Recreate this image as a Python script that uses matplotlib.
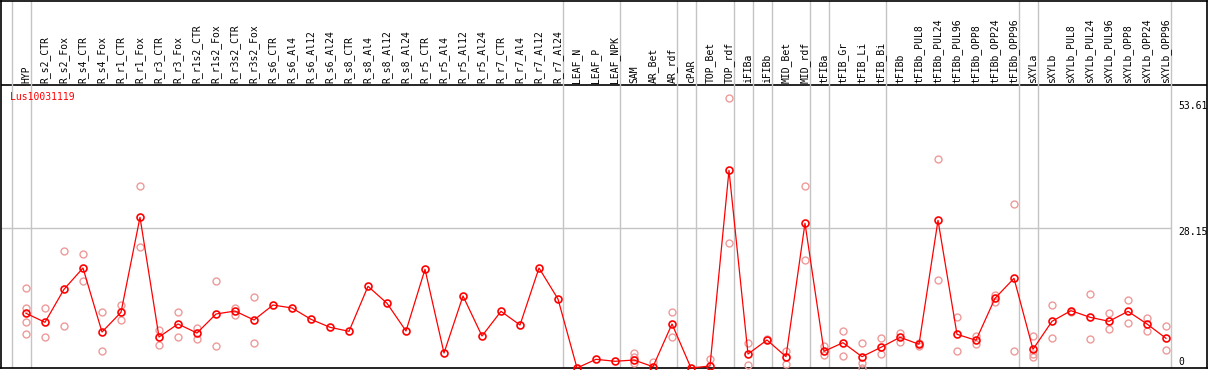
import numpy as np
import matplotlib
matplotlib.use('Agg')
import matplotlib.pyplot as plt

# sample names (x categories)
samples = ['HYP', 'R_s2_CTR', 'R_s2_Fox', 'R_s4_CTR', 'R_s4_Fox', 'R_r1_CTR', 'R_r1_Fox',
           'R_r3_CTR', 'R_r3_Fox', 'R_r1s2_CTR', 'R_r1s2_Fox', 'R_r3s2_CTR', 'R_r3s2_Fox',
           'R_s6_CTR', 'R_s6_Al4', 'R_s6_Al12', 'R_s6_Al24', 'R_s8_CTR', 'R_s8_Al4',
           'R_s8_Al12', 'R_s8_Al24', 'R_r5_CTR', 'R_r5_Al4', 'R_r5_Al12', 'R_r5_Al24',
           'R_r7_CTR', 'R_r7_Al4', 'R_r7_Al12', 'R_r7_Al24', 'LEAF_N', 'LEAF_P', 'LEAF_NPK',
           'SAM', 'AR_Bet', 'AR_rdf', 'cPAR', 'TOP_Bet', 'TOP_rdf', 'iFIBa', 'iFIBb',
           'MID_Bet', 'MID_rdf', 'tFIBa', 'tFIB_Gr', 'tFIB_Li', 'tFIB_Bi', 'tFIBb',
           'tFIBb_PUL8', 'tFIBb_PUL24', 'tFIBb_PUL96', 'tFIBb_OPP8', 'tFIBb_OPP24',
           'tFIBb_OPP96', 'sXYLa', 'sXYLb', 'sXYLb_PUL8', 'sXYLb_PUL24', 'sXYLb_PUL96',
           'sXYLb_OPP8', 'sXYLb_OPP24', 'sXYLb_OPP96']

# mean expression per sample
means = [11.02, 9.21, 15.86, 20.15, 7.25, 11.22, 30.36, 6.25, 8.87, 7.05, 10.88, 11.48, 9.67,
         12.69, 12.09, 9.81, 8.20, 7.39, 16.46, 13.04, 7.46, 19.89, 3.02, 14.51, 6.45,
         11.42, 8.66, 20.15, 13.90, 0.0, 1.75, 1.35, 1.61, 0.26, 8.87, 0.0, 0.4,
         39.83, 2.82, 5.64, 2.28, 29.16, 3.36, 5.10, 2.28, 4.17, 6.19, 4.78, 29.76,
         6.79, 5.58, 14.04, 18.07, 3.77, 9.41, 11.55, 10.22, 9.41, 11.42, 8.87, 5.98]

# single replicates per sample
reps = [[16.06, 12.15, 9.21, 6.79], [12.03, 6.19], [23.57, 8.46], [22.91, 17.47],
        [11.28, 3.43], [12.75, 9.61], [36.67, 24.38], [7.66, 4.63], [11.28, 6.25],
        [8.12, 5.90], [17.47, 4.37], [12.15, 10.74], [14.25, 4.98],
        [], [], [], [], [], [], [], [], [], [], [], [], [], [], [], [], [], [], [],
        [2.96, 2.15, 1.07], [1.21], [11.22, 6.25], [], [1.75], [54.34, 25.13],
        [5.10, 0.54], [5.78], [3.49, 0.81], [36.61, 21.70], [4.43, 2.55], [7.39, 2.42],
        [5.10, 0.94, 0.0], [5.98, 2.82], [7.11, 5.30], [4.98, 4.49], [42.11, 17.67],
        [10.22, 3.43], [6.45, 4.84], [14.71, 13.36], [32.98, 3.43], [6.45, 2.82, 2.15],
        [12.63, 5.98], [11.28], [14.91, 5.78], [11.02, 7.80], [13.70, 9.01],
        [10.07, 7.52], [8.40, 3.57]]

# groups end after these sample indices
group_ends = [-1, 0, 28, 31, 34, 35, 37, 38, 39, 41, 42, 45, 52, 53, 60]
y_ticks = [53.61, 28.15, 0]
gene = 'Lus10031119'

W, H = 1209, 370
px = 19.0       # pixels per sample
py = 4.963      # pixels per unit
x0 = 26.0       # pixel of first sample

fig = plt.figure(figsize=(W / 100, H / 100), dpi=100)
# axes from pixel x=1..1207, y=0.5..368
ax = fig.add_axes([1 / W, (H - 368) / H, 1206 / W, 367.5 / H])
ax.set_xlim((1 - x0) / px, (1207 - x0) / px)
ax.set_ylim(0, 367.5 / py)
ax.set_xticks([])
ax.set_yticks([])
for s in ax.spines.values():
    s.set_linewidth(1.2)
    s.set_color('black')

font = 'DejaVu Sans Mono'
fs = 7

# header line and labels
head_y = (368 - 85) / py
ax.axhline(head_y, color='black', lw=1.2)
x = np.arange(len(samples))
for i, name in enumerate(samples):
    ax.text(i, (368 - 83) / py, name, rotation=90, ha='center', va='bottom',
            fontsize=fs, family=font)

# group separators
for g in group_ends:
    ax.axvline(g + 0.24, color='#c4c4c4', lw=1)

# grid line at middle tick
ax.hlines(y_ticks[1], ax.get_xlim()[0], group_ends[-1] + 0.24, color='#c4c4c4', lw=1)

# right side value labels
lab_x = (1178.5 - x0) / px
for v in y_ticks:
    off = -2.9 if v > 0 else 4.5
    ax.annotate(str(v), (lab_x, v), xytext=(0, off), textcoords='offset points',
                ha='left', va='center', fontsize=fs, family=font)

ax.text((9.5 - x0) / px, (368 - 97.3) / py, gene, color='red', ha='left', va='center',
        fontsize=fs, family=font)

# replicates
rx = [i for i, r in enumerate(reps) for _ in r]
ry = [v for r in reps for v in r]
ax.plot(rx, ry, 'o', ms=5, mfc='none', mec='#ee9a9a', mew=1.0, clip_on=False, zorder=3)

# means
ax.plot(x, means, '-', color='red', lw=0.9, zorder=4, clip_on=False)
ax.plot(x, means, 'o', ms=5, mfc='none', mec='red', mew=1.2, zorder=5, clip_on=False)

fig.savefig('out.png', dpi=100)
